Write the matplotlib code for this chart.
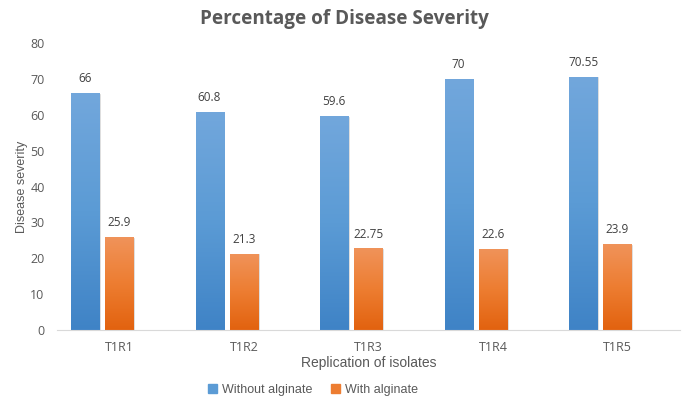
import numpy as np
import matplotlib.pyplot as plt
from matplotlib.colors import LinearSegmentedColormap

# Disease severity per replicate
isolates = ['T1R1', 'T1R2', 'T1R3', 'T1R4', 'T1R5']
without_alginate = [66, 60.8, 59.6, 70, 70.55]
with_alginate = [25.9, 21.3, 22.75, 22.6, 23.9]
value_labels_without = ['66', '60.8', '59.6', '70', '70.55']
value_labels_with = ['25.9', '21.3', '22.75', '22.6', '23.9']

grey = '#595959'
blue_cmap = LinearSegmentedColormap.from_list('b', ['#3F83C6', '#5B9BD5', '#72A7DC'])
orange_cmap = LinearSegmentedColormap.from_list('o', ['#E2620F', '#ED7D31', '#F0935A'])

fig = plt.figure(figsize=(6.88, 3.96), dpi=100)
ax = fig.add_axes([0.083, 0.1667, 0.905, 0.7245])

x = np.arange(len(isolates))
w = 0.225


def gradient_bars(xpos, vals, cmap, labels):
    bars = ax.bar(xpos, vals, width=w, color='none', zorder=2)
    grad = np.linspace(1, 0, 256).reshape(-1, 1)
    for b, lab in zip(bars, labels):
        x0, y0 = b.get_x(), b.get_y()
        x1, y1 = x0 + b.get_width(), y0 + b.get_height()
        im = ax.imshow(grad, cmap=cmap, extent=[x0, x1, 0, y1], aspect='auto',
                       origin='upper', zorder=2)
        im.set_clip_path(b)
        # faint drop shadow on the right side
        ax.plot([x1 + 0.006, x1 + 0.006], [0, y1 - 0.4], color='#d8d8d8', lw=1.2, zorder=1)
        ax.text(b.get_x() + b.get_width() / 2, y1 + 2.2, lab, ha='center', va='bottom',
                fontsize=8.5, color='#404040', family='Open Sans')
    return bars


gradient_bars(x - 0.276, without_alginate, blue_cmap, value_labels_without)
gradient_bars(x, with_alginate, orange_cmap, value_labels_with)

ax.set_xlim(-0.5, 4.5)
ax.set_ylim(0, 80)
ax.set_yticks(range(0, 81, 10))
ax.set_xticks(x)
ax.set_xticklabels(isolates)
for s in ['top', 'right', 'left']:
    ax.spines[s].set_visible(False)
ax.spines['bottom'].set_color('#d9d9d9')
ax.tick_params(axis='both', length=0, colors=grey, labelsize=9)
ax.tick_params(axis='y', pad=9)
ax.tick_params(axis='x', pad=8)
for t in ax.get_xticklabels() + ax.get_yticklabels():
    t.set_family('Open Sans')

ax.set_ylabel('Disease severity', fontsize=9, color=grey, family='Liberation Sans', labelpad=2)
ax.yaxis.set_label_coords(-0.046, 0.5)
ax.set_xlabel('Replication of isolates', fontsize=10, color=grey, family='Liberation Sans')
ax.xaxis.set_label_coords(0.5, -0.09)

fig.text(0.5, 0.953, 'Percentage of Disease Severity', ha='center', va='center',
         fontsize=13.6, fontweight='bold', color=grey, family='Open Sans')

# legend
handles = [plt.Rectangle((0, 0), 1, 1, color='#5B9BD5'),
           plt.Rectangle((0, 0), 1, 1, color='#ED7D31')]
fig.legend(handles, ['Without alginate', 'With alginate'], loc='center',
           bbox_to_anchor=(0.455, 0.016), ncol=2, frameon=False,
           prop={'family': 'Liberation Sans', 'size': 9}, labelcolor=grey,
           handlelength=0.7, handleheight=0.7, handletextpad=0.4, columnspacing=1.5)

fig.savefig('out.png', dpi=100)
